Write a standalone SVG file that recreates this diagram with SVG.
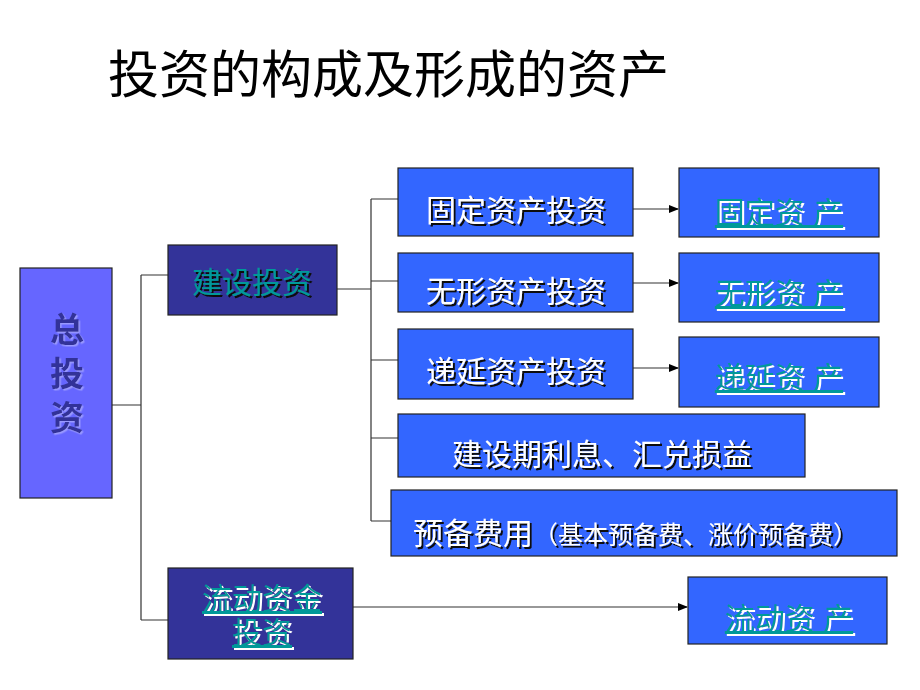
<svg xmlns="http://www.w3.org/2000/svg" width="920" height="690" viewBox="0 0 920 690">
<defs>
<style>
text{font-family:"Liberation Sans","Noto Sans CJK SC",sans-serif;white-space:pre}
.title{font-size:51px;fill:#000}
.box{stroke:#222;stroke-width:1.2}
.mid{fill:#3366ff}
.dark{fill:#333399}
.left{fill:#6666ff}
.wt{font-size:30px;fill:#fff;text-anchor:middle;filter:url(#dsh)}
.tl{font-size:30px;fill:#009999;text-anchor:middle;filter:url(#wsh)}
.tld{font-size:30px;fill:#009999;text-anchor:middle;filter:url(#dsh)}
.tot{font-size:34px;font-weight:bold;fill:#333399;text-anchor:middle;filter:url(#bsh)}
.u{text-decoration:underline}
.conn{stroke:#333;stroke-width:1.2;fill:none}
.arr{stroke:#333;stroke-width:1.2;fill:none;marker-end:url(#ah)}
</style>
<filter id="dsh" x="-10%" y="-30%" width="120%" height="160%">
<feDropShadow dx="2" dy="2" stdDeviation="0" flood-color="#111" flood-opacity="1"/>
</filter>
<filter id="wsh" x="-10%" y="-30%" width="120%" height="160%">
<feDropShadow dx="2" dy="2" stdDeviation="0" flood-color="#fff" flood-opacity="1"/>
</filter>
<filter id="bsh" x="-20%" y="-30%" width="140%" height="160%">
<feDropShadow dx="1.5" dy="1.5" stdDeviation="0" flood-color="#9999ff" flood-opacity="1"/>
</filter>
<marker id="ah" markerWidth="10" markerHeight="8" refX="9" refY="4" orient="auto" markerUnits="userSpaceOnUse">
<path d="M0,0 L10,4 L0,8 z" fill="#000"/>
</marker>
</defs>
<rect width="920" height="690" fill="#fff"/>
<text class="title" x="108" y="93">投资的构成及形成的资产</text>

<g id="connectors">
<path class="conn" d="M112,405 H141 M141,275 V620 M141,275 H168 M141,620 H168"/>
<path class="conn" d="M337,289 H371 M371,199 V521 M371,199 H398 M371,281 H398 M371,360 H398 M371,438 H398 M371,521 H391"/>
<path class="arr" d="M633,209 H678"/>
<path class="arr" d="M633,283 H678"/>
<path class="arr" d="M633,368 H678"/>
<path class="arr" d="M353,607 H687"/>
</g>

<g id="total">
<rect class="box left" x="20" y="268" width="92" height="230"/>
<text class="tot" x="67" y="342">总</text>
<text class="tot" x="67" y="386">投</text>
<text class="tot" x="67" y="430">资</text>
</g>

<g id="construction">
<rect class="box dark" x="168" y="245" width="169" height="70"/>
<text class="tld" x="252" y="293">建设投资</text>
</g>

<g id="fixed-inv">
<rect class="box mid" x="398" y="168" width="235" height="68"/>
<text class="wt" x="516" y="221">固定资产投资</text>
</g>
<g id="intangible-inv">
<rect class="box mid" x="398" y="253" width="235" height="59"/>
<text class="wt" x="516" y="302">无形资产投资</text>
</g>
<g id="deferred-inv">
<rect class="box mid" x="398" y="329" width="235" height="70"/>
<text class="wt" x="516" y="382">递延资产投资</text>
</g>
<g id="interest">
<rect class="box mid" x="398" y="414" width="407" height="63"/>
<text class="wt" x="602" y="465">建设期利息、汇兑损益</text>
</g>
<g id="reserve">
<rect class="box mid" x="391" y="490" width="506" height="66"/>
<text x="413" y="544" style="font-size:30px;fill:#fff;filter:url(#dsh)">预备费用<tspan style="font-size:25px">（基本预备费、涨价预备费）</tspan></text>
</g>

<g id="fixed-asset">
<rect class="box mid" x="679" y="168" width="200" height="69"/>
<text class="tl u" x="779" y="223">固定资 产</text>
</g>
<g id="intangible-asset">
<rect class="box mid" x="679" y="253" width="200" height="69"/>
<text class="tl u" x="779" y="304">无形资 产</text>
</g>
<g id="deferred-asset">
<rect class="box mid" x="679" y="337" width="200" height="70"/>
<text class="tl u" x="779" y="388">递延资 产</text>
</g>

<g id="working-capital">
<rect class="box dark" x="168" y="568" width="185" height="91"/>
<text class="tl u" x="262" y="609">流动资金</text>
<text class="tl u" x="262" y="643">投资</text>
</g>
<g id="current-asset">
<rect class="box mid" x="688" y="577" width="199" height="67"/>
<text class="tl u" x="789" y="629">流动资 产</text>
</g>
</svg>
